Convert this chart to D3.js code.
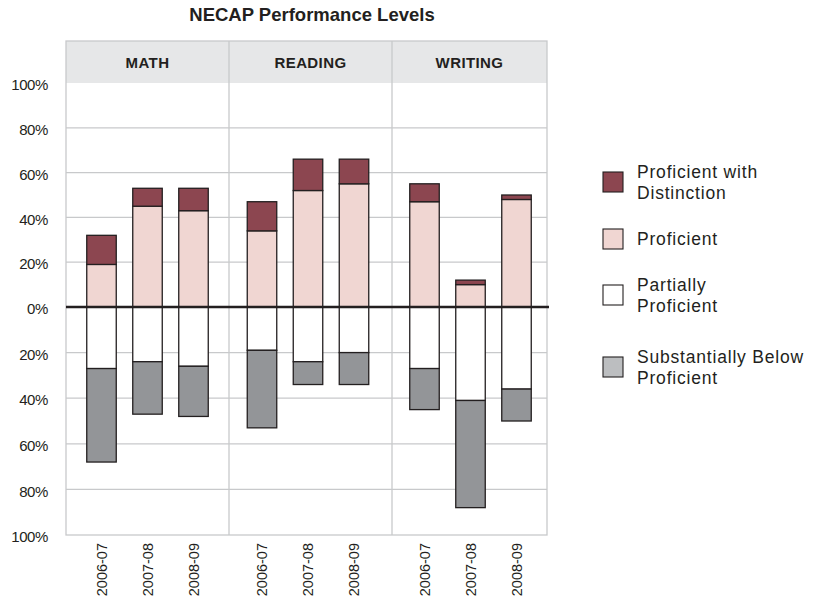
<!DOCTYPE html>
<html lang="en">
<head>
<meta charset="UTF-8">
<title>NECAP Performance Levels</title>
<script src="https://d3js.org/d3.v7.min.js"></script>
<style>
body { margin: 0; background: #fff; }
svg text { font-family: 'Liberation Sans', Arial, Helvetica, sans-serif; fill: #231f20; }
</style>
</head>
<body>
<svg class="container"></svg>
<script>
// data (percent of students)
const subjects = ['MATH', 'READING', 'WRITING'];
const years = ['2006-07', '2007-08', '2008-09'];
const distinction = [[13, 8, 10], [13, 14, 11], [8, 2, 2]];
const proficient = [[19, 45, 43], [34, 52, 55], [47, 10, 48]];
const partially = [[27, 24, 26], [19, 24, 20], [27, 41, 36]];
const substBelow = [[41, 23, 22], [34, 10, 14], [18, 47, 14]];
const yTicks = [-100, -80, -60, -40, -20, 0, 20, 40, 60, 80, 100];
const legendItems = [
    { lines: ['Proficient with', 'Distinction'], color: '#8c4650' },
    { lines: ['Proficient'], color: '#f0d6d2' },
    { lines: ['Partially', 'Proficient'], color: '#ffffff' },
    { lines: ['Substantially Below', 'Proficient'], color: '#bcbec0' }
];

const width = 823, height = 601;
const svg = d3.select('svg.container').attr('width', width).attr('height', height);

// layout
const plotTop = 41, headerBottom = 83, plotBottom = 535;
const panelX = [66, 229, 392, 547];
const barW = 29.5;
const grid = '#c8c9cb', ink = '#231f20';

const y = d3.scaleLinear().domain([-100, 0, 100]).range([plotBottom, 307, headerBottom]);

// one point scale per subject panel
const xIn = subjects.map((s, i) => {
    const c = (panelX[i] + panelX[i + 1]) / 2 + (i == 1 ? -2.5 : i == 2 ? 1 : 0);
    return d3.scalePoint().domain(years).range([c - 46, c + 46]);
});

svg.append('text')
    .attr('x', 312).attr('y', 21)
    .attr('text-anchor', 'middle')
    .style('font-size', '18.5px').style('font-weight', 'bold')
    .text('NECAP Performance Levels');

// header band
svg.append('rect')
    .attr('x', panelX[0]).attr('y', plotTop)
    .attr('width', panelX[3] - panelX[0]).attr('height', headerBottom - plotTop)
    .attr('fill', '#e6e7e8');

subjects.forEach((s, i) => {
    svg.append('text')
        .attr('x', (panelX[i] + panelX[i + 1]) / 2).attr('y', 68)
        .attr('text-anchor', 'middle')
        .style('font-size', '15px').style('font-weight', 'bold')
        .style('letter-spacing', '0.4px')
        .text(s);
});

// grid lines
svg.append('g').selectAll('line')
    .data(yTicks.filter(d => d != 0 && Math.abs(d) != 100))
    .join('line')
    .attr('x1', panelX[0]).attr('x2', panelX[3])
    .attr('y1', d => y(d)).attr('y2', d => y(d))
    .attr('stroke', grid).attr('stroke-width', 1.3);

// frame + panel dividers
svg.append('rect')
    .attr('x', panelX[0]).attr('y', plotTop)
    .attr('width', panelX[3] - panelX[0]).attr('height', plotBottom - plotTop)
    .attr('fill', 'none').attr('stroke', grid).attr('stroke-width', 1.3);
svg.append('g').selectAll('line')
    .data(panelX.slice(1, 3))
    .join('line')
    .attr('x1', d => d).attr('x2', d => d)
    .attr('y1', plotTop).attr('y2', plotBottom)
    .attr('stroke', grid).attr('stroke-width', 1.3);

// y axis labels (absolute percent)
svg.append('g').selectAll('text')
    .data(yTicks)
    .join('text')
    .attr('x', 48).attr('y', d => y(d) + 2)
    .attr('dy', '0.35em')
    .attr('text-anchor', 'end')
    .style('font-size', '15px')
    .style('letter-spacing', '-0.4px')
    .text(d => Math.abs(d) + '%');

// bars
const segs = [];
subjects.forEach((s, i) => {
    years.forEach((yr, j) => {
        const cx = xIn[i](yr);
        const p = proficient[i][j], pd = distinction[i][j];
        const pp = partially[i][j], sb = substBelow[i][j];
        segs.push({ cx, y0: 0, y1: p, color: '#f0d6d2' });
        segs.push({ cx, y0: p, y1: p + pd, color: '#8c4650' });
        segs.push({ cx, y0: 0, y1: -pp, color: '#ffffff' });
        segs.push({ cx, y0: -pp, y1: -(pp + sb), color: '#939598' });
    });
});

svg.append('g').selectAll('rect')
    .data(segs)
    .join('rect')
    .attr('x', d => d.cx - barW / 2)
    .attr('y', d => y(Math.max(d.y0, d.y1)))
    .attr('width', barW)
    .attr('height', d => Math.abs(y(d.y0) - y(d.y1)))
    .attr('fill', d => d.color)
    .attr('stroke', ink).attr('stroke-width', 1.3);

// zero line
svg.append('line')
    .attr('x1', panelX[0]).attr('x2', panelX[3] + 2)
    .attr('y1', y(0)).attr('y2', y(0))
    .attr('stroke', ink).attr('stroke-width', 2.6);

// x labels
subjects.forEach((s, i) => {
    svg.append('g').selectAll('text')
        .data(years)
        .join('text')
        .attr('transform', d => `translate(${xIn[i](d) + 5},543) rotate(-90)`)
        .attr('text-anchor', 'end')
        .style('font-size', '14.5px')
        .text(d => d);
});

// legend
const legend = svg.append('g');
const legY = [172, 229, 285, 357];
legendItems.forEach((it, k) => {
    const g = legend.append('g').attr('transform', `translate(603,${legY[k]})`);
    g.append('rect')
        .attr('width', 20).attr('height', 20)
        .attr('fill', it.color)
        .attr('stroke', ink).attr('stroke-width', 1.1);
    const n = it.lines.length;
    g.selectAll('text')
        .data(it.lines)
        .join('text')
        .attr('x', 34)
        .attr('y', (d, m) => (n == 1 ? 16 : 5.5 + m * 21.5))
        .style('font-size', '17.5px')
        .style('letter-spacing', '0.8px')
        .text(d => d);
});
</script>
</body>
</html>
